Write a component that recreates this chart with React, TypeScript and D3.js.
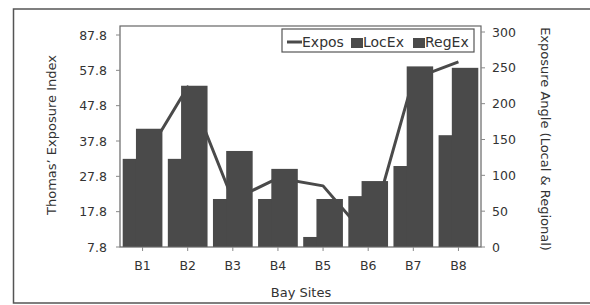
import React from "react";
import * as d3 from "d3";

// values
const sites = ["B1", "B2", "B3", "B4", "B5", "B6", "B7", "B8"];
const expos = [31.9, 53.1, 21.1, 27.3, 25.1, 10.3, 55.4, 60.2];
const locEx = [123, 123, 67, 67, 14, 71, 113, 156];
const regEx = [165, 225, 134, 109, 67, 92, 252, 250];

const leftTickValues = [7.8, 17.8, 27.8, 37.8, 47.8, 57.8, 67.8];
const leftTickLabels = ["7.8", "17.8", "27.8", "37.8", "47.8", "57.8", "87.8"];
const rightTickValues = [0, 50, 100, 150, 200, 250, 300];

const width = 590;
const height = 305;
const plot = { left: 120, right: 481, top: 26, bottom: 247 };

const ink = "#4a4a4a";
const textColor = "#333";
const font = "'DejaVu Sans', sans-serif";

export default function App() {
  const x = d3
    .scaleBand<string>()
    .domain(sites)
    .range([plot.left, plot.right])
    .paddingInner(0.12)
    .paddingOuter(0.06);

  const yLeft = d3.scaleLinear().domain([7.8, 67.8]).range([plot.bottom, 35]);
  const yRight = d3.scaleLinear().domain([0, 300]).range([plot.bottom, 32]);

  const bw = x.bandwidth();
  const barW = bw / 1.5; // 50% overlap between the two bars

  const line = d3
    .line<number>()
    .x((_, i) => (x(sites[i]) as number) + bw / 2)
    .y((d) => yLeft(d));

  return (
    <svg
      width={width}
      height={height}
      style={{ position: "absolute", left: 0, top: 0, background: "#fff" }}
    >
      {/* outer scanned frame */}
      <rect x={13.5} y={9} width={620} height={294} fill="none" stroke="#555" strokeWidth={1.5} />

      {/* line series */}
      <path
        d={line(expos) || ""}
        fill="none"
        stroke={ink}
        strokeWidth={3}
        strokeLinejoin="round"
      />

      {/* bars */}
      {sites.map((s, i) => {
        const x0 = x(s) as number;
        return (
          <g key={s} fill={ink}>
            <rect
              x={x0}
              y={yRight(locEx[i])}
              width={barW}
              height={plot.bottom - yRight(locEx[i])}
            />
            <rect
              x={x0 + bw - barW}
              y={yRight(regEx[i])}
              width={barW}
              height={plot.bottom - yRight(regEx[i])}
            />
          </g>
        );
      })}

      {/* plot frame */}
      <rect
        x={plot.left}
        y={plot.top}
        width={plot.right - plot.left}
        height={plot.bottom - plot.top}
        fill="none"
        stroke="#666"
        strokeWidth={1.2}
      />

      {/* left axis */}
      {leftTickValues.map((v, i) => (
        <g key={"l" + i}>
          <line x1={plot.left - 4} x2={plot.left} y1={yLeft(v)} y2={yLeft(v)} stroke="#888" />
          <text
            x={107}
            y={yLeft(v)}
            textAnchor="end"
            dominantBaseline="central"
            fontFamily={font}
            fontSize={12.5}
            fill={textColor}
          >
            {leftTickLabels[i]}
          </text>
        </g>
      ))}

      {/* right axis */}
      {rightTickValues.map((v) => (
        <g key={"r" + v}>
          <line x1={plot.right} x2={plot.right + 4} y1={yRight(v)} y2={yRight(v)} stroke="#888" />
          <text
            x={492}
            y={yRight(v)}
            dominantBaseline="central"
            fontFamily={font}
            fontSize={12.5}
            fill={textColor}
          >
            {v}
          </text>
        </g>
      ))}

      {/* category axis */}
      {sites.map((s) => {
        const cx = (x(s) as number) + bw / 2;
        return (
          <g key={"x" + s}>
            <line x1={cx} x2={cx} y1={plot.bottom} y2={plot.bottom + 4} stroke="#888" />
            <text
              x={cx}
              y={270}
              textAnchor="middle"
              fontFamily={font}
              fontSize={12.5}
              fill={textColor}
            >
              {s}
            </text>
          </g>
        );
      })}

      {/* axis titles */}
      <text
        x={301}
        y={297}
        textAnchor="middle"
        fontFamily={font}
        fontSize={13}
        fill={textColor}
      >
        Bay Sites
      </text>
      <text
        transform="translate(51,135) rotate(-90)"
        textAnchor="middle"
        dominantBaseline="central"
        fontFamily={font}
        fontSize={13}
        fill={textColor}
      >
        Thomas’ Exposure Index
      </text>
      <text
        transform="translate(545,139) rotate(90)"
        textAnchor="middle"
        dominantBaseline="central"
        fontFamily={font}
        fontSize={13}
        fill={textColor}
      >
        Exposure Angle (Local &amp; Regional)
      </text>

      {/* legend */}
      <g fontFamily={font} fontSize={14} fill={textColor}>
        <rect x={282} y={29} width={192} height={23} fill="#fff" stroke="#555" strokeWidth={1.2} />
        <line x1={287} x2={302} y1={42} y2={42} stroke={ink} strokeWidth={3} />
        <text x={302} y={47}>Expos</text>
        <rect x={351} y={38} width={12} height={10} fill={ink} />
        <text x={363} y={47}>LocEx</text>
        <rect x={413} y={38} width={12} height={10} fill={ink} />
        <text x={425} y={47}>RegEx</text>
      </g>
    </svg>
  );
}
